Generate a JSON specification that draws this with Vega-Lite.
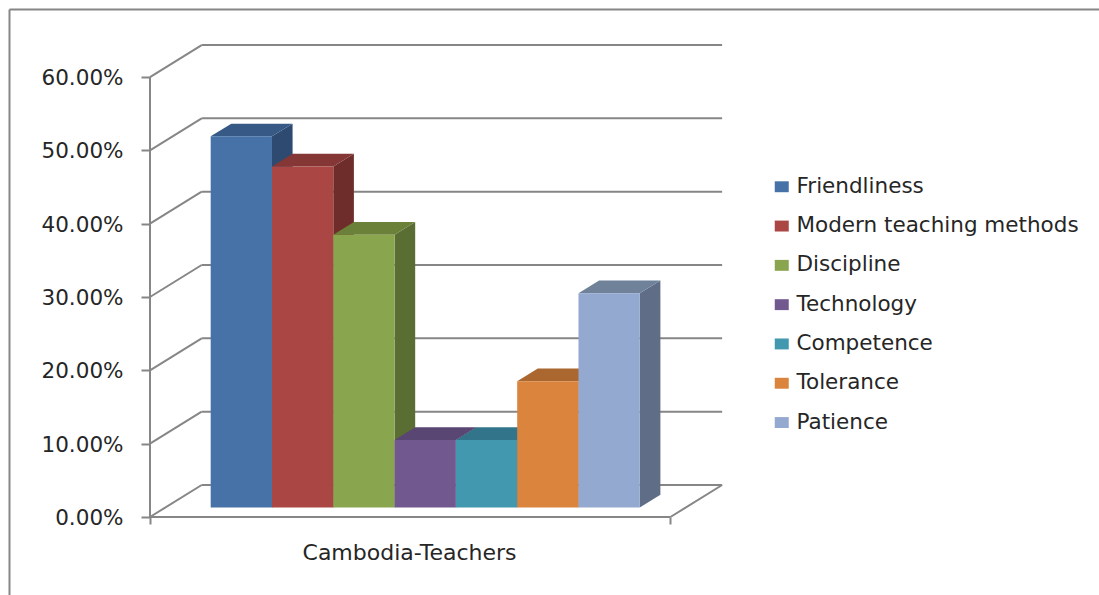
{
  "$schema": "https://vega.github.io/schema/vega-lite/v6.json",
  "width": 572,
  "height": 472,
  "autosize": {"type": "none"},
  "padding": {"left": 150, "top": 45, "right": 377, "bottom": 78},
  "background": "#ffffff",
  "config": {"view": {"stroke": null}, "font": "DejaVu Sans"},
  "params": [
    {"name": "floorDX", "value": 0.843},
    {"name": "floorDY", "value": 0.04364},
    {"name": "floorW", "value": 8.49},
    {"name": "planeDY", "value": 0.01309},
    {"name": "barStart", "value": 0.99},
    {"name": "barDX", "value": 0.336},
    {"name": "barDY", "value": 0.01732}
  ],
  "datasets": {
    "scores": [
      {"trait": "Friendliness", "share": 0.506},
      {"trait": "Modern teaching methods", "share": 0.465},
      {"trait": "Discipline", "share": 0.372},
      {"trait": "Technology", "share": 0.092},
      {"trait": "Competence", "share": 0.092},
      {"trait": "Tolerance", "share": 0.172},
      {"trait": "Patience", "share": 0.292}
    ],
    "ticks": [
      {"level": 0}, {"level": 0.1}, {"level": 0.2}, {"level": 0.3},
      {"level": 0.4}, {"level": 0.5}, {"level": 0.6}
    ]
  },
  "resolve": {"scale": {"color": "independent"}},
  "layer": [
    {
      "description": "Outer chart frame, left edge",
      "data": {"values": [{}]},
      "mark": {"type": "rule", "stroke": "#868686", "strokeWidth": 2},
      "encoding": {
        "x": {
          "datum": -2.292, "type": "quantitative",
          "scale": {"domain": [0, 9.331], "nice": false, "zero": false},
          "axis": {
            "values": [0, 8.49], "labels": false, "domain": false, "grid": false,
            "tickColor": "#868686", "tickWidth": 2, "tickSize": 7,
            "title": "Cambodia-Teachers", "titleFont": "DejaVu Sans", "titleFontSize": 22,
            "titleFontWeight": "normal", "titleColor": "#262626",
            "titleX": 259, "titleY": 42, "titleAlign": "center", "titleBaseline": "alphabetic"
          }
        },
        "y": {
          "datum": 0.692, "type": "quantitative",
          "scale": {"domain": [0, 0.6437], "nice": false, "zero": false},
          "axis": {
            "values": [0, 0.1, 0.2, 0.3, 0.4, 0.5, 0.6], "format": ".2%", "domain": false, "grid": false,
            "tickColor": "#868686", "tickWidth": 2, "tickSize": 9,
            "labelFont": "DejaVu Sans", "labelFontSize": 21.5, "labelColor": "#262626", "labelPadding": 18,
            "labelOffset": 1.5, "title": null
          }
        },
        "y2": {"datum": -0.12}
      }
    },
    {
      "description": "Outer chart frame, top edge",
      "data": {"values": [{}]},
      "mark": {"type": "rule", "stroke": "#868686", "strokeWidth": 2},
      "encoding": {
        "x": {"datum": -2.292, "type": "quantitative"},
        "x2": {"datum": 15.6},
        "y": {"datum": 0.692, "type": "quantitative"}
      }
    },
    {
      "description": "Slanted side wall lines",
      "data": {"name": "ticks"},
      "transform": [{"calculate": "datum.level + floorDY", "as": "back"}, {"calculate": "floorDX", "as": "wall"}, {"calculate": "0", "as": "corner"}],
      "mark": {"type": "rule", "stroke": "#868686", "strokeWidth": 2},
      "encoding": {
        "x": {"field": "corner", "type": "quantitative"},
        "x2": {"field": "wall"},
        "y": {"field": "level", "type": "quantitative"},
        "y2": {"field": "back"}
      }
    },
    {
      "description": "Back wall gridlines",
      "data": {"name": "ticks"},
      "transform": [{"calculate": "datum.level + floorDY", "as": "back"}, {"calculate": "floorDX", "as": "wall"}, {"calculate": "floorW + floorDX", "as": "wallEnd"}],
      "mark": {"type": "rule", "stroke": "#868686", "strokeWidth": 2},
      "encoding": {
        "x": {"field": "wall", "type": "quantitative"},
        "x2": {"field": "wallEnd"},
        "y": {"field": "back", "type": "quantitative"}
      }
    },
    {
      "description": "Front vertical axis line",
      "data": {"values": [{}]},
      "mark": {"type": "rule", "stroke": "#868686", "strokeWidth": 2},
      "encoding": {
        "x": {"datum": 0, "type": "quantitative"},
        "y": {"datum": 0, "type": "quantitative"},
        "y2": {"datum": 0.6}
      }
    },
    {
      "description": "Floor front edge",
      "data": {"values": [{}]},
      "mark": {"type": "rule", "stroke": "#868686", "strokeWidth": 2},
      "encoding": {
        "x": {"datum": 0, "type": "quantitative"},
        "x2": {"datum": 8.49},
        "y": {"datum": 0, "type": "quantitative"}
      }
    },
    {
      "description": "Floor right edge",
      "data": {"values": [{}]},
      "mark": {"type": "rule", "stroke": "#868686", "strokeWidth": 2},
      "encoding": {
        "x": {"datum": 8.49, "type": "quantitative"},
        "x2": {"datum": 9.333},
        "y": {"datum": 0, "type": "quantitative"},
        "y2": {"datum": 0.04364}
      }
    },
    {
      "description": "Bar side faces",
      "data": {"name": "scores"},
      "transform": [
        {"window": [{"op": "row_number", "as": "slot"}]},
        {"calculate": "[0, 1]", "as": "t"},
        {"flatten": ["t"]},
        {"calculate": "barStart + datum.slot + datum.t * barDX", "as": "px"},
        {"calculate": "planeDY + datum.t * barDY", "as": "lo"},
        {"calculate": "datum.lo + datum.share", "as": "hi"}
      ],
      "mark": {"type": "area", "orient": "vertical", "interpolate": "linear"},
      "encoding": {
        "x": {"field": "px", "type": "quantitative"},
        "y": {"field": "lo", "type": "quantitative"},
        "y2": {"field": "hi"},
        "color": {
          "field": "trait", "type": "nominal", "sort": null, "legend": null,
          "scale": {"range": ["#2E4A70", "#6E2C2B", "#5A6D33", "#4B3A5F", "#2B6474", "#8F5628", "#5F6D86"]}
        }
      }
    },
    {
      "description": "Bar top faces",
      "data": {"name": "scores"},
      "transform": [
        {"window": [{"op": "row_number", "as": "slot"}]},
        {"calculate": "[0, 1, 2, 3]", "as": "v"},
        {"flatten": ["v"]},
        {"calculate": "barStart + datum.slot - 1 + (datum.v == 0 ? 0 : datum.v == 1 ? barDX : datum.v == 2 ? 1 : 1 + barDX)", "as": "px"},
        {"calculate": "planeDY + datum.share + (datum.v == 3 ? barDY : 0)", "as": "lo"},
        {"calculate": "planeDY + datum.share + (datum.v == 0 ? 0 : barDY)", "as": "hi"}
      ],
      "mark": {"type": "area", "orient": "vertical", "interpolate": "linear"},
      "encoding": {
        "x": {"field": "px", "type": "quantitative"},
        "y": {"field": "lo", "type": "quantitative"},
        "y2": {"field": "hi"},
        "color": {
          "field": "trait", "type": "nominal", "sort": null, "legend": null,
          "scale": {"range": ["#365A85", "#853735", "#6B8139", "#5A4672", "#32758A", "#AA672F", "#6F8299"]}
        }
      }
    },
    {
      "description": "Bar front faces, which also carry the legend",
      "data": {"name": "scores"},
      "transform": [
        {"window": [{"op": "row_number", "as": "slot"}]},
        {"calculate": "barStart + datum.slot - 1", "as": "left"},
        {"calculate": "datum.left + 1", "as": "right"},
        {"calculate": "planeDY", "as": "lo"},
        {"calculate": "planeDY + datum.share", "as": "hi"}
      ],
      "mark": {"type": "rect"},
      "encoding": {
        "x": {"field": "left", "type": "quantitative"},
        "x2": {"field": "right"},
        "y": {"field": "lo", "type": "quantitative"},
        "y2": {"field": "hi"},
        "color": {
          "field": "trait", "type": "nominal", "sort": null,
          "scale": {"range": ["#4672A8", "#AA4643", "#89A54E", "#71588F", "#4198AF", "#DB843D", "#93A9CF"]},
          "legend": {
            "title": null, "orient": "none", "legendX": 621, "legendY": 131,
            "symbolType": "M-1,-0.78H1V0.78H-1Z", "symbolSize": 196, "symbolStrokeWidth": 0,
            "labelFont": "DejaVu Sans", "labelFontSize": 21.5, "labelColor": "#262626",
            "labelOffset": 4, "rowPadding": 16.3, "labelLimit": 320
          }
        }
      }
    }
  ]
}
